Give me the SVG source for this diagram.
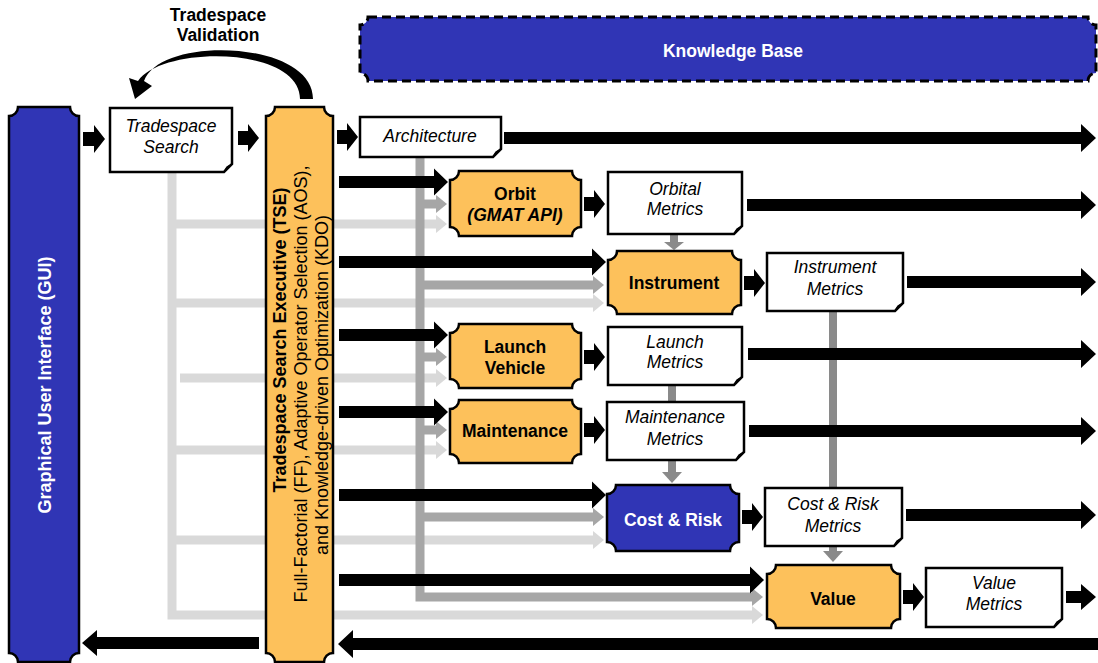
<svg xmlns="http://www.w3.org/2000/svg" width="1098" height="663" viewBox="0 0 1098 663">
  <style>
    .plq{stroke:#000;stroke-width:2.5}
    .orange{fill:#fdc15b}
    .blue{fill:#3035b5}
    .note{fill:#fff;stroke:#000;stroke-width:2.5;stroke-linejoin:miter}
    .fold{fill:#000}
    .lbl{font-family:"Liberation Sans",Arial,sans-serif;font-size:17.5px;text-anchor:middle;fill:#000}
    .big{font-size:18px}
    .b{font-weight:bold}
    .i{font-style:italic}
    .w{fill:#fff}
    .blk{fill:#000}
    .lg{fill:none;stroke:#d9d9d9;stroke-width:9}
    .lgh{fill:#d9d9d9}
    .mg{fill:none;stroke:#a6a6a6;stroke-width:9}
    .mgh{fill:#a6a6a6}
    .dg{fill:none;stroke:#8a8a8a;stroke-width:8}
    .dgh{fill:#8a8a8a}
  </style>

  <!-- connectors -->
  <g id="connectors">
    <!-- light grey feed from Tradespace Search -->
    <path class="lg" d="M172 173 V615 H752"/>
    <polygon class="lgh" points="752,606 763,615 752,624"/>
    <path class="lg" d="M172 224 H436"/><polygon class="lgh" points="436,215 447,224 436,233"/>
    <path class="lg" d="M172 303 H593"/><polygon class="lgh" points="593,294 604,303 593,312"/>
    <path class="lg" d="M180 378 H436"/><polygon class="lgh" points="436,369 447,378 436,387"/>
    <path class="lg" d="M172 450 H436"/><polygon class="lgh" points="436,441 447,450 436,459"/>
    <path class="lg" d="M172 540 H593"/><polygon class="lgh" points="593,531 604,540 593,549"/>

    <!-- mid grey feed from Architecture -->
    <path class="mg" d="M420 158 V597 H752"/>
    <polygon class="mgh" points="752,588 763,597 752,606"/>
    <path class="mg" d="M420 204 H436"/><polygon class="mgh" points="436,195 447,204 436,213"/>
    <path class="mg" d="M420 285 H593"/><polygon class="mgh" points="593,276 604,285 593,294"/>
    <path class="mg" d="M420 357 H436"/><polygon class="mgh" points="436,348 447,357 436,366"/>
    <path class="mg" d="M420 430 H436"/><polygon class="mgh" points="436,421 447,430 436,439"/>
    <path class="mg" d="M420 517 H593"/><polygon class="mgh" points="593,508 604,517 593,526"/>

    <!-- dark grey metric links -->
    <path class="dg" d="M674 234 V242"/><polygon class="dgh" points="664,242 684,242 674,250"/>
    <path class="dg" d="M672 385 V472"/><polygon class="dgh" points="662,472 682,472 672,483"/>
    <path class="dg" d="M833 311 V551"/><polygon class="dgh" points="823,551 843,551 833,562"/>

    <!-- black flows from TSE into the models -->
    <polygon class="blk" points="339,176 434,176 434,168.5 448,182 434,195.5 434,188 339,188"/>
    <polygon class="blk" points="339,256 592,256 592,248.5 606,262 592,275.5 592,268 339,268"/>
    <polygon class="blk" points="339,329 434,329 434,321.5 448,335 434,348.5 434,341 339,341"/>
    <polygon class="blk" points="339,406 434,406 434,398.5 448,412 434,425.5 434,418 339,418"/>
    <polygon class="blk" points="339,489 592,489 592,481.5 606,495 592,508.5 592,501 339,501"/>
    <polygon class="blk" points="339,574 750,574 750,566.5 764,580 750,593.5 750,586 339,586"/>

    <!-- short black links -->
    <polygon class="blk" points="83,132 94,132 94,125 105,139 94,153 94,146 83,146"/>
    <polygon class="blk" points="238,131 248,131 248,124 259,138 248,152 248,145 238,145"/>
    <polygon class="blk" points="337,130 347,130 347,123 358,137 347,151 347,144 337,144"/>
    <polygon class="blk" points="584,197 594,197 594,190 605,204 594,218 594,211 584,211"/>
    <polygon class="blk" points="744,276 754,276 754,269 765,283 754,297 754,290 744,290"/>
    <polygon class="blk" points="584,350 594,350 594,343 605,357 594,371 594,364 584,364"/>
    <polygon class="blk" points="584,423 594,423 594,416 605,430 594,444 594,437 584,437"/>
    <polygon class="blk" points="742,510 752,510 752,503 763,517 752,531 752,524 742,524"/>
    <polygon class="blk" points="903,590 913,590 913,583 924,597 913,611 913,604 903,604"/>

    <!-- long black outputs to the Knowledge Base -->
    <polygon class="blk" points="504,132 1081,132 1081,124 1096,138 1081,152 1081,144 504,144"/>
    <polygon class="blk" points="747,199 1081,199 1081,191 1096,205 1081,219 1081,211 747,211"/>
    <polygon class="blk" points="907,276 1081,276 1081,268 1096,282 1081,296 1081,288 907,288"/>
    <polygon class="blk" points="748,348 1081,348 1081,340 1096,354 1081,368 1081,360 748,360"/>
    <polygon class="blk" points="749,425 1081,425 1081,417 1096,431 1081,445 1081,437 749,437"/>
    <polygon class="blk" points="906,509 1081,509 1081,501 1096,515 1081,529 1081,521 906,521"/>
    <polygon class="blk" points="1066,591 1081,591 1081,584 1096,597 1081,610 1081,603 1066,603"/>

    <!-- return flow -->
    <polygon class="blk" points="1098,638 353,638 353,630 338,644 353,658 353,650 1098,650"/>
    <polygon class="blk" points="259,637 97,637 97,630 82,643 97,656 97,649 259,649"/>

    <!-- tradespace validation loop -->
    <path class="blk" d="M313 99 C313 40, 160 35, 144 81 L152 86 L135 99 L129 78 L138 81 C163 45, 300 46, 300 99 Z"/>
  </g>

  <text class="lbl b" x="218" y="21">Tradespace</text>
  <text class="lbl b" x="218" y="41">Validation</text>

  <!-- Knowledge Base -->
  <g id="knowledge-base">
    <path class="blue" d="M368,17 H1088 A8,8 0 0 0 1096,25 V73 A8,8 0 0 0 1088,81 H368 A8,8 0 0 0 360,73 V25 A8,8 0 0 0 368,17 Z" stroke="#000" stroke-width="3" stroke-dasharray="9 5"/>
    <text class="lbl b w" x="733" y="57">Knowledge Base</text>
  </g>

  <!-- Graphical User Interface -->
  <g id="gui">
    <path class="plq blue" d="M18,107 H70 A9,9 0 0 0 79,116 V653 A9,9 0 0 0 70,662 H18 A9,9 0 0 0 9,653 V116 A9,9 0 0 0 18,107 Z"/>
    <text class="lbl big b w" transform="translate(51 385) rotate(-90)">Graphical User Interface (GUI)</text>
  </g>

  <!-- Tradespace Search -->
  <g id="tradespace-search">
    <path class="note" d="M110,108 H232 V164 L224,172 H110 Z"/>
    <path class="fold" d="M232,164 L224,172 Q225,165 232,164 Z"/>
    <text class="lbl i" x="171" y="132">Tradespace</text>
    <text class="lbl i" x="171" y="153">Search</text>
  </g>

  <!-- Tradespace Search Executive -->
  <g id="tse">
    <path class="plq orange" d="M275,107 H324 A9,9 0 0 0 333,116 V653 A9,9 0 0 0 324,662 H275 A9,9 0 0 0 266,653 V116 A9,9 0 0 0 275,107 Z"/>
    <text class="lbl big b" transform="translate(286 340) rotate(-90)">Tradespace Search Executive (TSE)</text>
    <text class="lbl big" transform="translate(307 384) rotate(-90)">Full-Factorial (FF), Adaptive Operator Selection (AOS),</text>
    <text class="lbl big" transform="translate(328 385) rotate(-90)">and Knowledge-driven Optimization (KDO)</text>
  </g>

  <!-- Architecture -->
  <g id="architecture">
    <path class="note" d="M360,117 H501 V149 L493,157 H360 Z"/>
    <path class="fold" d="M501,149 L493,157 Q494,150 501,149 Z"/>
    <text class="lbl i" x="430" y="142">Architecture</text>
  </g>

  <!-- Orbit -->
  <g id="orbit">
    <path class="plq orange" d="M459,171 H572 A9,9 0 0 0 581,180 V227 A9,9 0 0 0 572,236 H459 A9,9 0 0 0 450,227 V180 A9,9 0 0 0 459,171 Z"/>
    <text class="lbl b" x="515" y="200">Orbit</text>
    <text class="lbl b i" x="515" y="221">(GMAT API)</text>
  </g>

  <g id="orbital-metrics">
    <path class="note" d="M608,172 H742 V226 L734,234 H608 Z"/>
    <path class="fold" d="M742,226 L734,234 Q735,227 742,226 Z"/>
    <text class="lbl i" x="675" y="195">Orbital</text>
    <text class="lbl i" x="675" y="215">Metrics</text>
  </g>

  <!-- Instrument -->
  <g id="instrument">
    <path class="plq orange" d="M617,251 H732 A9,9 0 0 0 741,260 V305 A9,9 0 0 0 732,314 H617 A9,9 0 0 0 608,305 V260 A9,9 0 0 0 617,251 Z"/>
    <text class="lbl b" x="674" y="289">Instrument</text>
  </g>

  <g id="instrument-metrics">
    <path class="note" d="M767,253 H903 V303 L895,311 H767 Z"/>
    <path class="fold" d="M903,303 L895,311 Q896,304 903,303 Z"/>
    <text class="lbl i" x="835" y="273">Instrument</text>
    <text class="lbl i" x="835" y="295">Metrics</text>
  </g>

  <!-- Launch Vehicle -->
  <g id="launch-vehicle">
    <path class="plq orange" d="M459,324 H572 A9,9 0 0 0 581,333 V379 A9,9 0 0 0 572,388 H459 A9,9 0 0 0 450,379 V333 A9,9 0 0 0 459,324 Z"/>
    <text class="lbl b" x="515" y="353">Launch</text>
    <text class="lbl b" x="515" y="374">Vehicle</text>
  </g>

  <g id="launch-metrics">
    <path class="note" d="M608,327 H742 V377 L734,385 H608 Z"/>
    <path class="fold" d="M742,377 L734,385 Q735,378 742,377 Z"/>
    <text class="lbl i" x="675" y="348">Launch</text>
    <text class="lbl i" x="675" y="368">Metrics</text>
  </g>

  <!-- Maintenance -->
  <g id="maintenance">
    <path class="plq orange" d="M459,400 H572 A9,9 0 0 0 581,409 V454 A9,9 0 0 0 572,463 H459 A9,9 0 0 0 450,454 V409 A9,9 0 0 0 459,400 Z"/>
    <text class="lbl b" x="515" y="437">Maintenance</text>
  </g>

  <g id="maintenance-metrics">
    <path class="note" d="M607,402 H744 V452 L736,460 H607 Z"/>
    <path class="fold" d="M744,452 L736,460 Q737,453 744,452 Z"/>
    <text class="lbl i" x="675" y="423">Maintenance</text>
    <text class="lbl i" x="675" y="445">Metrics</text>
  </g>

  <!-- Cost & Risk -->
  <g id="cost-risk">
    <path class="plq blue" d="M616,485 H730 A9,9 0 0 0 739,494 V542 A9,9 0 0 0 730,551 H616 A9,9 0 0 0 607,542 V494 A9,9 0 0 0 616,485 Z"/>
    <text class="lbl b w" x="673" y="526">Cost &amp; Risk</text>
  </g>

  <g id="cost-risk-metrics">
    <path class="note" d="M765,488 H902 V538 L894,546 H765 Z"/>
    <path class="fold" d="M902,538 L894,546 Q895,539 902,538 Z"/>
    <text class="lbl i" x="833" y="510">Cost &amp; Risk</text>
    <text class="lbl i" x="833" y="532">Metrics</text>
  </g>

  <!-- Value -->
  <g id="value">
    <path class="plq orange" d="M776,565 H891 A9,9 0 0 0 900,574 V619 A9,9 0 0 0 891,628 H776 A9,9 0 0 0 767,619 V574 A9,9 0 0 0 776,565 Z"/>
    <text class="lbl b" x="833" y="605">Value</text>
  </g>

  <g id="value-metrics">
    <path class="note" d="M926,568 H1062 V619 L1054,627 H926 Z"/>
    <path class="fold" d="M1062,619 L1054,627 Q1055,620 1062,619 Z"/>
    <text class="lbl i" x="994" y="589">Value</text>
    <text class="lbl i" x="994" y="610">Metrics</text>
  </g>
</svg>
